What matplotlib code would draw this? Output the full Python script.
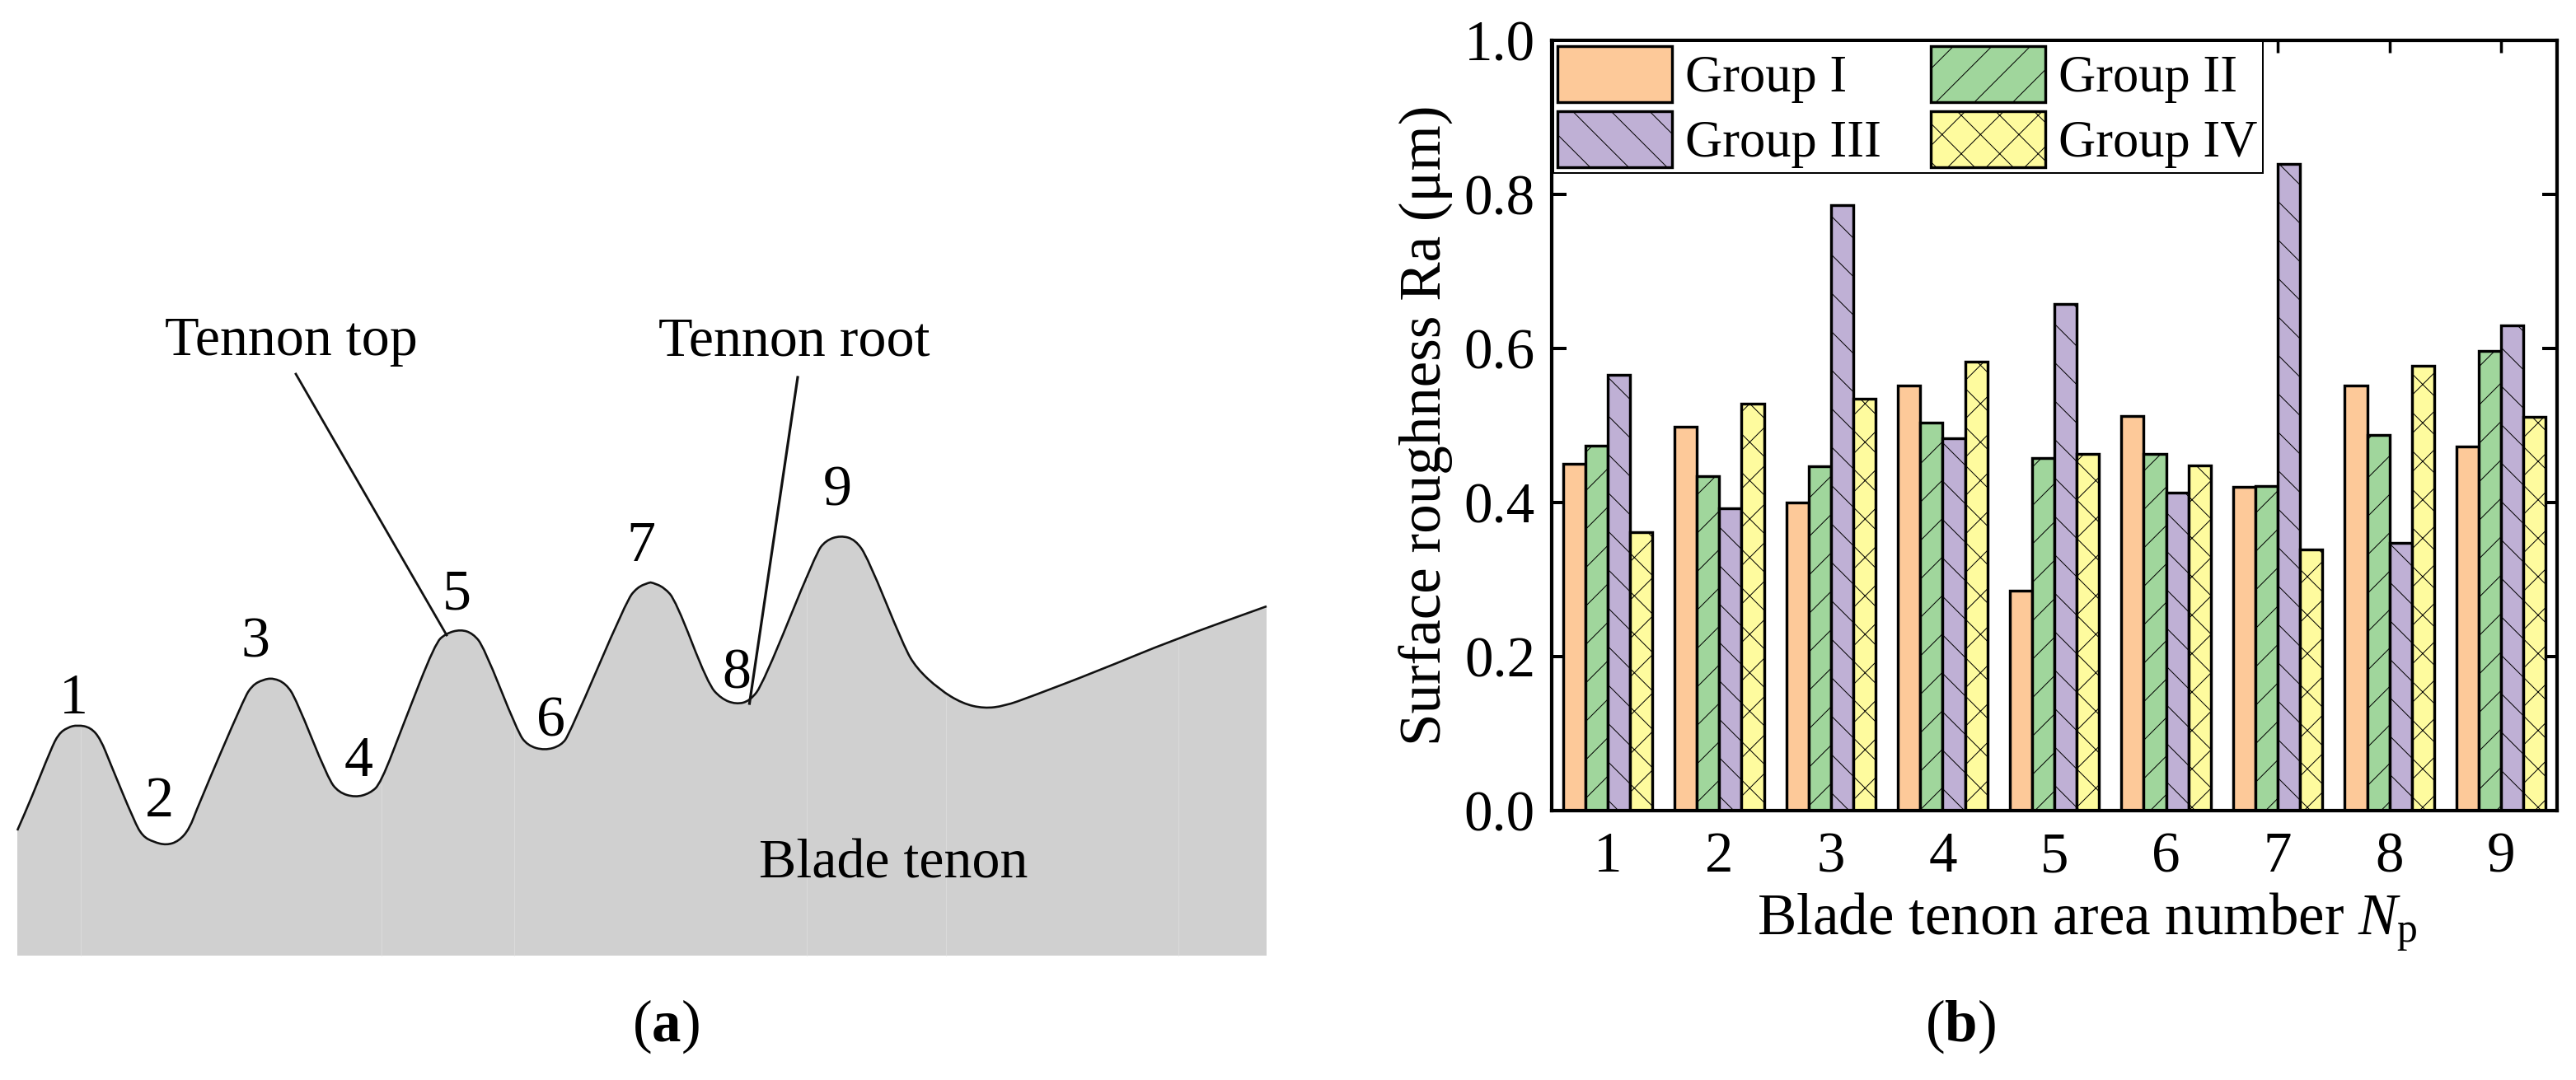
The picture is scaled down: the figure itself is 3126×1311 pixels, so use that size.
import numpy as np
import matplotlib
matplotlib.use("Agg")
import matplotlib.pyplot as plt
from matplotlib.path import Path
from matplotlib.patches import PathPatch

W, H = 3126, 1311
DPI = 140
S = 72 / DPI  # points per output pixel

plt.rcParams['font.family'] = ['Liberation Serif', 'DejaVu Serif']
plt.rcParams['mathtext.fontset'] = 'custom'
plt.rcParams['mathtext.rm'] = 'Liberation Serif'
plt.rcParams['mathtext.it'] = 'Liberation Serif:italic'
plt.rcParams['mathtext.bf'] = 'Liberation Serif:bold'
plt.rcParams['hatch.linewidth'] = 1.0 * S

# ---- data: panel (b)
areas = [1, 2, 3, 4, 5, 6, 7, 8, 9]
group_1 = [0.450, 0.498, 0.400, 0.552, 0.286, 0.512, 0.420, 0.552, 0.473]
group_2 = [0.474, 0.434, 0.447, 0.504, 0.458, 0.463, 0.421, 0.488, 0.597]
group_3 = [0.566, 0.393, 0.786, 0.483, 0.658, 0.413, 0.840, 0.348, 0.630]
group_4 = [0.361, 0.528, 0.535, 0.583, 0.463, 0.448, 0.339, 0.578, 0.511]
group_names = ['Group I', 'Group II', 'Group III', 'Group IV']
y_ticks = [0.0, 0.2, 0.4, 0.6, 0.8, 1.0]

# ---- data: panel (a), profile (image pixels)
profile_x = [21, 38, 62, 71, 82, 94, 110, 122, 134, 163, 173, 186, 202, 217, 230, 240,
             296, 306, 319, 332, 347, 359, 398, 411, 431, 449, 462, 490, 528, 541, 559,
             574, 587, 628, 640, 661, 681, 691, 760, 773, 788, 791, 806, 820, 859, 875,
             893, 910, 926, 990, 1002, 1020, 1038, 1053, 1097, 1112, 1140, 1168, 1194,
             1219, 1250, 1331, 1423, 1537]
profile_y = [1008, 969, 909, 891, 883, 880, 883, 897, 927, 997, 1015, 1022, 1026, 1021,
             1006, 979, 848, 832, 825, 823, 830, 848, 945, 962, 968, 963, 951, 878, 781,
             769, 764, 769, 785, 888, 905, 911, 905, 891, 730, 713, 707, 707, 713, 729,
             830, 848, 855, 851, 830, 672, 656, 650, 655, 677, 785, 811, 837, 854, 860,
             857, 846, 815, 777, 736]
profile_bottom = 1160
seams_x = [98, 463, 624, 979, 1148, 1430]
peak_labels = ['1', '2', '3', '4', '5', '6', '7', '8', '9']
peak_label_x = [89, 193, 310, 435, 554, 668, 778, 894, 1016]
peak_label_y = [866, 991, 798, 942, 740, 894, 681, 836, 613]

fig = plt.figure(figsize=(W / DPI, H / DPI), dpi=DPI, facecolor='white')

# ---- panel (a): an axes spanning the figure, in image pixels
bg = fig.add_axes([0, 0, 1, 1])
bg.set_xlim(0, W)
bg.set_ylim(H, 0)
bg.axis('off')

px, py = np.array(profile_x, float), np.array(profile_y, float)
mx, my = (px[:-1] + px[1:]) / 2, (py[:-1] + py[1:]) / 2
verts = [(px[0], py[0]), (mx[0], my[0])]
codes = [Path.MOVETO, Path.LINETO]
for i in range(1, len(px) - 1):
    verts += [(px[i], py[i]), (mx[i], my[i])]
    codes += [Path.CURVE3, Path.CURVE3]
verts.append((px[-1], py[-1]))
codes.append(Path.LINETO)
fill_verts = verts + [(px[-1], profile_bottom), (px[0], profile_bottom), (px[0], py[0])]
fill_codes = codes + [Path.LINETO, Path.LINETO, Path.LINETO]
bg.add_patch(PathPatch(Path(fill_verts, fill_codes), facecolor='#D0D0D0', edgecolor='none'))
bg.vlines(seams_x, np.interp(seams_x, px, py) + 3, profile_bottom, color='#DADADA', lw=1 * S)
bg.add_patch(PathPatch(Path(verts, codes), facecolor='none', edgecolor='#111111', lw=2.6 * S))

bg.plot([359, 542], [454, 771], color='#111111', lw=2.8 * S)
bg.plot([968, 909.5], [458, 854], color='#111111', lw=3.2 * S)

fs_a = 68 * S
for t, x, y in zip(peak_labels, peak_label_x, peak_label_y):
    bg.text(x, y, t, ha='center', va='baseline', fontsize=70 * S)
bg.text(353, 431, 'Tennon top', ha='center', va='baseline', fontsize=fs_a)
bg.text(964, 431, 'Tennon root', ha='center', va='baseline', fontsize=fs_a)
bg.text(1084, 1066, 'Blade tenon', ha='center', va='baseline', fontsize=fs_a)
bg.text(808, 1264, r'$(\mathbf{a})$', ha='center', va='baseline', fontsize=71 * S)
bg.text(2379, 1264, r'$(\mathbf{b})$', ha='center', va='baseline', fontsize=71 * S)

# ---- panel (b)
L, R, T, B = 1883, 3103, 49, 984
ax = fig.add_axes([L / W, 1 - B / H, (R - L) / W, (B - T) / H])
ax.patch.set_alpha(0)
x = np.array(areas, float)
bw = 0.2
series = [group_1, group_2, group_3, group_4]
colors = ['#FDC999', '#A0D69C', '#BFB0D5', '#FEFB9E']
hatches = [None, '/', '\\', 'x']
bars = []
for k, (vals, c, h, name) in enumerate(zip(series, colors, hatches, group_names)):
    bars.append(ax.bar(x + (k - 1.5) * bw, vals, bw, facecolor=c, edgecolor='black',
                       hatch=h, linewidth=3.4 * S, label=name))

ax.set_xlim(0.5, 9.5)
ax.set_ylim(0, 1.0)
ax.set_xticks(areas)
ax.set_yticks(y_ticks)
ax.set_yticklabels([f'{v:.1f}' for v in y_ticks])
ax.set_axisbelow(True)
ax.tick_params(axis='y', direction='in', length=18 * S, width=4 * S, left=True, right=True,
               labelsize=69 * S, pad=20 * S)
ax.tick_params(axis='x', direction='in', length=15 * S, width=3.5 * S, bottom=True, top=True,
               labelsize=69 * S, pad=26 * S)
for s in ax.spines.values():
    s.set_linewidth(4.2 * S)

ax.set_xlabel(r'Blade tenon area number $\mathit{N}_{\mathrm{p}}$', fontsize=71 * S, va='baseline')
ax.xaxis.set_label_coords(0.5328, -0.1615)
ax.set_ylabel('Surface roughness Ra (μm)', fontsize=71 * S, va='baseline', rotation_mode='anchor')
ax.yaxis.set_label_coords(-0.110, 0.5)

# column-wise filling: the reference reads row by row
order = [0, 2, 1, 3]
leg = ax.legend([bars[i] for i in order], [group_names[i] for i in order],
                ncol=2, loc='upper left', bbox_to_anchor=(0.0015, 0.9985), borderaxespad=0,
                fontsize=62.5 * S, frameon=True, fancybox=False, framealpha=1,
                edgecolor='black', handlelength=2.21, handleheight=1.30,
                handletextpad=0.27, columnspacing=0.96, labelspacing=0.16, borderpad=0.09)
leg.get_frame().set_linewidth(2.0 * S)

fig.savefig('out.png', dpi=DPI, facecolor='white')
